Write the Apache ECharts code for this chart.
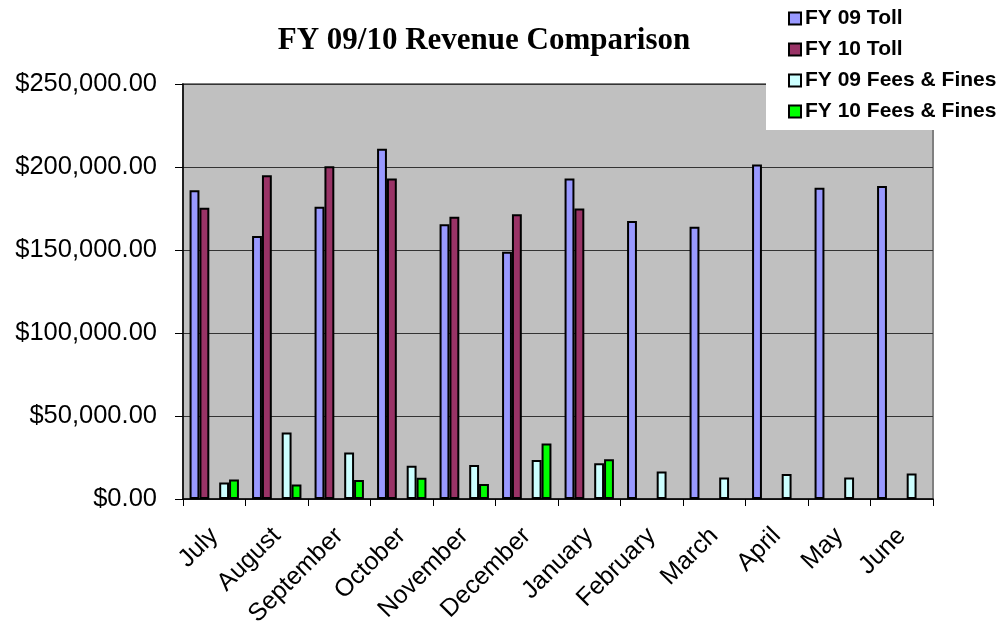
<!DOCTYPE html>
<html>
<head>
<meta charset="utf-8">
<script src="https://cdn.jsdelivr.net/npm/echarts@6/dist/echarts.min.js"></script>
<style>
html,body{margin:0;padding:0;background:#fff;}
#chart{width:1003px;height:630px;}
</style>
</head>
<body>
<div id="chart"></div>
<script>
const months = ['July','August','September','October','November','December','January','February','March','April','May','June'];
const fy09Toll = [186000, 158500, 176000, 211000, 165500, 149000, 193000, 167500, 164000, 201500, 187500, 188500];
const fy10Toll = [175500, 195000, 200500, 193000, 170000, 171500, 175000, null, null, null, null, null];
const fy09Fees = [10000, 40000, 28000, 20000, 20500, 23500, 21500, 16500, 13000, 15000, 13000, 15400];
const fy10Fees = [11800, 8800, 11400, 12800, 9000, 33500, 24000, null, null, null, null, null];
const spacer = [null, null, null, null, null, null, null, null, null, null, null, null];
const yTicks = [0, 50000, 100000, 150000, 200000, 250000];

function money(v){
  return '$' + Number(v).toLocaleString('en-US',{minimumFractionDigits:2,maximumFractionDigits:2});
}

const chart = echarts.init(document.getElementById('chart'));
const barStyle = (color) => ({color: color, borderColor: '#000', borderWidth: 2});
chart.setOption({
  animation: false,
  backgroundColor: '#fff',
  title: {
    text: 'FY 09/10 Revenue Comparison',
    left: 484, top: 25, textAlign: 'center', padding: 0,
    textStyle: {fontFamily: '"Liberation Serif", "Times New Roman", serif', fontWeight: 'bold', fontSize: 31, color: '#000'}
  },
  legend: {
    orient: 'vertical',
    left: 766, top: 0,
    padding: [8, 10, 8, 22],
    backgroundColor: '#fff',
    itemWidth: 12, itemHeight: 12, itemGap: 10,
    icon: 'rect',
    data: ['FY 09 Toll','FY 10 Toll','FY 09 Fees & Fines','FY 10 Fees & Fines'],
    textStyle: {fontFamily: '"Liberation Sans", Arial, sans-serif', fontWeight: 'bold', fontSize: 21, color: '#000', padding: [0,0,0,-1]},
    itemStyle: {borderColor: '#000', borderWidth: 2}
  },
  grid: {
    left: 183, right: 70, top: 84, bottom: 131,
    outerBoundsMode: 'none', containLabel: false,
    show: true, backgroundColor: '#C0C0C0', borderColor: '#808080', borderWidth: 2
  },
  xAxis: {
    type: 'category',
    data: months,
    axisLine: {lineStyle: {color: '#000', width: 1.5}},
    axisTick: {show: true, length: 7, lineStyle: {color: '#000'}},
    axisLabel: {rotate: 45, margin: 33, fontSize: 25, color: '#000', fontFamily: '"Liberation Sans", Arial, sans-serif', interval: 0}
  },
  yAxis: {
    type: 'value',
    min: yTicks[0], max: yTicks[yTicks.length-1], interval: yTicks[1]-yTicks[0],
    axisLine: {show: true, lineStyle: {color: '#000', width: 1.5}},
    axisTick: {show: true, length: 8, lineStyle: {color: '#000'}},
    splitLine: {show: true, lineStyle: {color: '#333', width: 1}},
    axisLabel: {margin: 26, fontSize: 25.5, color: '#000', fontFamily: '"Liberation Sans", Arial, sans-serif', formatter: money}
  },
  series: [
    {name: 'FY 09 Toll', type: 'bar', data: fy09Toll, barGap: '0%', barCategoryGap: '21%', itemStyle: barStyle('#9999FF')},
    {name: 'FY 10 Toll', type: 'bar', data: fy10Toll, itemStyle: barStyle('#993366')},
    {name: 'spacer', type: 'bar', data: spacer, itemStyle: barStyle('#C0C0C0')},
    {name: 'FY 09 Fees & Fines', type: 'bar', data: fy09Fees, itemStyle: barStyle('#CCFFFF')},
    {name: 'FY 10 Fees & Fines', type: 'bar', data: fy10Fees, itemStyle: barStyle('#00FF00')}
  ]
});
</script>
</body>
</html>
